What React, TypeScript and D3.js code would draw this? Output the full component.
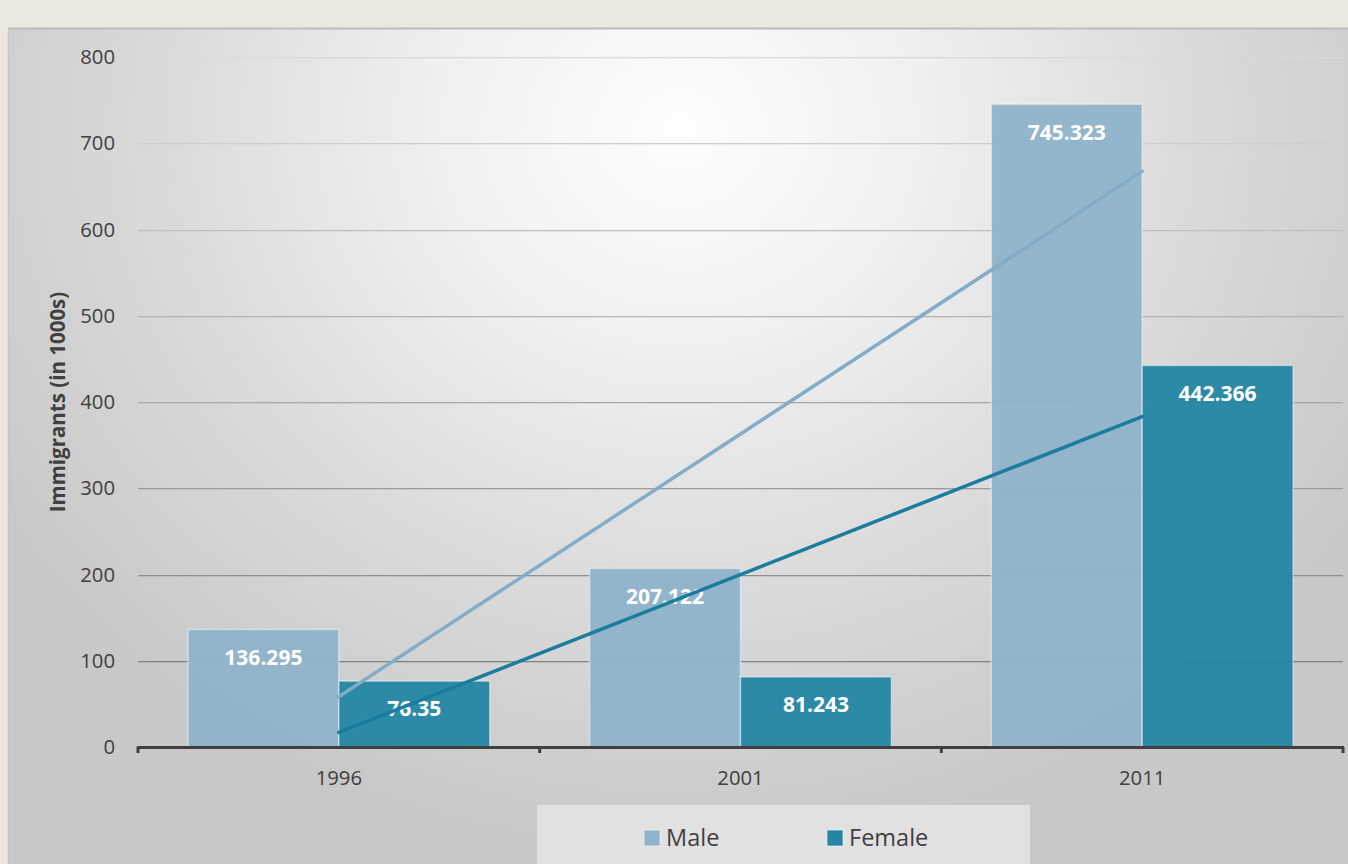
import React from "react";
import * as d3 from "d3";

const categories = ["1996", "2001", "2011"];
const seriesNames = ["Male", "Female"];
const maleValues = [136.295, 207.122, 745.323];
const femaleValues = [76.35, 81.243, 442.366];
const maleLabels = ["136.295", "207.122", "745.323"];
const femaleLabels = ["76.35", "81.243", "442.366"];
const yTicks = [0, 100, 200, 300, 400, 500, 600, 700, 800];

const W = 1348;
const H = 864;
const FONT = "'Open Sans', 'Noto Sans', sans-serif";
const colors: Record<string, string> = { Male: "#8FB3CA", Female: "#2386A3" };
const trendColors: Record<string, string> = { Male: "#82ACC8", Female: "#1A7D9D" };

function linReg(vals: number[]) {
  const xs = vals.map((_, i) => i + 1);
  const mx = d3.mean(xs)!;
  const my = d3.mean(vals)!;
  const slope = d3.sum(xs.map((x, i) => (x - mx) * (vals[i] - my))) / d3.sum(xs.map((x) => (x - mx) ** 2));
  const icpt = my - slope * mx;
  return xs.map((x) => icpt + slope * x);
}

export default function App() {
  const left = 138, right = 1343, top = 57, bottom = 747;
  const x0 = d3.scaleBand<string>().domain(categories).range([left, right]).padding(0);
  const x1 = d3.scaleBand<string>().domain(seriesNames).range([0, x0.bandwidth()]).paddingInner(0).paddingOuter(0.331);
  const y = d3.scaleLinear().domain([0, 800]).range([bottom, top]);
  const data: Record<string, number[]> = { Male: maleValues, Female: femaleValues };
  const labels: Record<string, string[]> = { Male: maleLabels, Female: femaleLabels };
  const line = d3.line<[number, number]>().x((d) => d[0]).y((d) => d[1]);

  return (
    <svg width={W} height={H} style={{ position: "absolute", left: 0, top: 0 }} fontFamily={FONT}>
      <defs>
        <radialGradient id="bg" gradientUnits="userSpaceOnUse" cx={680} cy={130} r={800} fx={680} fy={130}
          gradientTransform="translate(680 130) scale(1 0.9) translate(-680 -130)">
          <stop offset="0" stopColor="#fdfdfd" />
          <stop offset="0.3" stopColor="#f0f0f0" />
          <stop offset="0.65" stopColor="#dadada" />
          <stop offset="1" stopColor="#c8c8c8" />
        </radialGradient>
        <linearGradient id="grid" gradientUnits="userSpaceOnUse" x1={0} y1={top} x2={0} y2={bottom}>
          <stop offset="0" stopColor="#dadada" />
          <stop offset="1" stopColor="#767676" />
        </linearGradient>
      </defs>
      <rect x={0} y={0} width={W} height={H} fill="#ECE8DF" />
      <rect x={8} y={28} width={W - 8} height={H - 28} fill="url(#bg)" />
      <line x1={8} x2={W} y1={28.5} y2={28.5} stroke="#bcbcbc" strokeWidth={2} />
      <line x1={8.5} x2={8.5} y1={28} y2={H} stroke="#c6c6c6" strokeWidth={1.5} />

      {yTicks.map((t) => (
        <g key={t}>
          {t > 0 && (
            <rect x={left} width={right - left} y={Math.round(y(t))} height={1.3} fill="url(#grid)" />
          )}
          <text x={115} y={y(t)} dy="0.35em" textAnchor="end" fontSize={20.3} fill="#404040">{t}</text>
        </g>
      ))}

      {categories.map((c, i) => (
        <g key={c}>
          {seriesNames.map((s) => (
            <rect key={s} x={x0(c)! + x1(s)!} y={y(data[s][i])} width={x1.bandwidth()} height={bottom - y(data[s][i])}
              fill={colors[s]} fillOpacity={0.95} stroke="rgba(255,255,255,0.45)" strokeWidth={1.5} />
          ))}
        </g>
      ))}

      {categories.map((c, i) => (
        <g key={c + "l"}>
          {seriesNames.map((s) => (
            <text key={s} x={x0(c)! + x1(s)! + x1.bandwidth() / 2} y={y(data[s][i]) + 28} dy="0.35em"
              textAnchor="middle" fontSize={21} fontWeight="bold" fill="#ffffff">{labels[s][i]}</text>
          ))}
        </g>
      ))}

      {seriesNames.map((s) => {
        const fit = linReg(data[s]);
        const pts: [number, number][] = [
          [x0(categories[0])! + x0.bandwidth() / 2, y(fit[0])],
          [x0(categories[categories.length - 1])! + x0.bandwidth() / 2, y(fit[fit.length - 1])],
        ];
        return <path key={s} d={line(pts)!} stroke={trendColors[s]} strokeWidth={3.5} fill="none" strokeLinecap="round" />;
      })}

      <line x1={left - 1} x2={right + 1} y1={bottom + 0.5} y2={bottom + 0.5} stroke="#404040" strokeWidth={3} />
      {[...categories.map((c) => x0(c)!), right].map((tx, i) => (
        <line key={i} x1={tx} x2={tx} y1={bottom} y2={bottom + 6} stroke="#404040" strokeWidth={3} />
      ))}
      {categories.map((c) => (
        <text key={c} x={x0(c)! + x0.bandwidth() / 2} y={778} dy="0.35em" textAnchor="middle" fontSize={20.3} fill="#404040">{c}</text>
      ))}

      <text transform={`translate(58,${(top + bottom) / 2}) rotate(-90)`} dy="0.35em" textAnchor="middle"
        fontSize={20.5} fontWeight="bold" fill="#404040">Immigrants (in 1000s)</text>

      <rect x={537} y={805} width={493} height={70} fill="#e1e1e1" />
      {seriesNames.map((s, i) => {
        const lx = i === 0 ? 644 : 827;
        return (
          <g key={s}>
            <rect x={lx} y={830} width={16} height={16} fill={colors[s]} stroke="rgba(255,255,255,0.6)" strokeWidth={1} />
            <text x={lx + 22} y={838} dy="0.35em" fontSize={23.5} fill="#404040">{s}</text>
          </g>
        );
      })}
    </svg>
  );
}
